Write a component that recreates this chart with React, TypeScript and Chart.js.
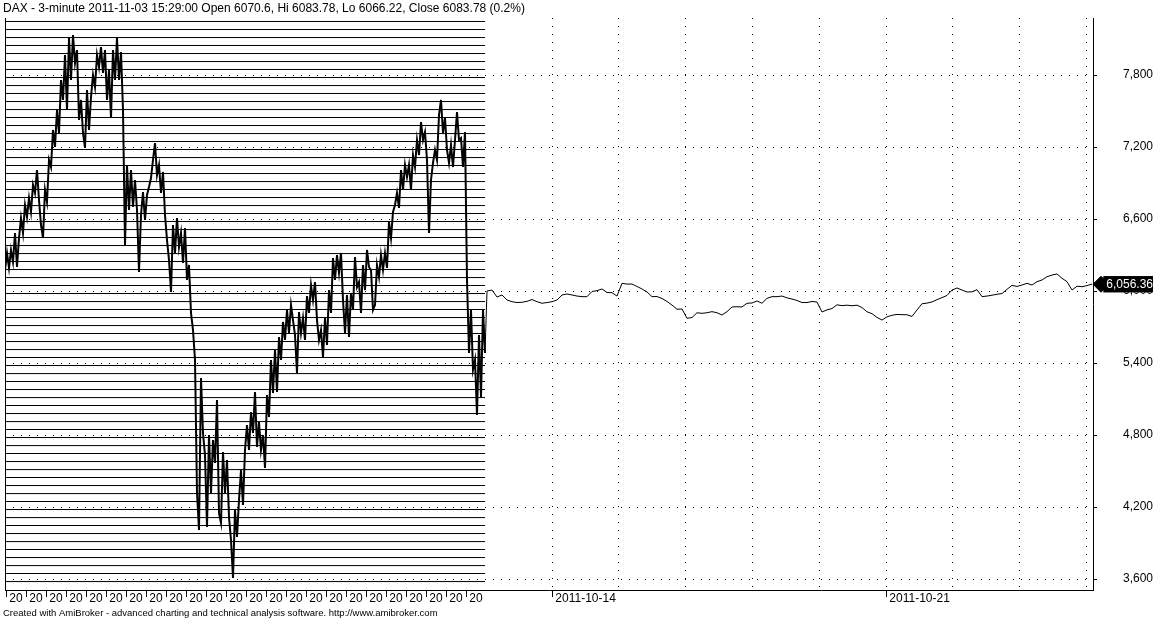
import React, { useEffect, useRef } from "react";
import { Chart, registerables } from "chart.js";

Chart.register(...registerables);

const titleText =
  "DAX - 3-minute 2011-11-03 15:29:00 Open 6070.6, Hi 6083.78, Lo 6066.22, Close 6083.78 (0.2%)";
const footerText =
  "Created with AmiBroker - advanced charting and technical analysis software. http://www.amibroker.com";

// compressed history (left part), one value every 2 slots
const historySlotStep = 2;
const historyValues = [
  6175, 6317, 6192, 6342, 6242, 6483, 6200, 6442, 6608, 6483,
  6717, 6617, 6775, 6658, 6883, 6817, 7008, 6758, 6550, 6442,
  6842, 6742, 7092, 7033, 7342, 7200, 7508, 7317, 7758, 7592,
  7967, 7508, 8108, 7758, 8133, 7900, 8008, 7425, 7592, 7317,
  7192, 7675, 7342, 7617, 7800, 7700, 7967, 7867, 8033, 7817,
  8008, 7592, 7842, 7442, 8008, 7758, 8108, 7758, 7992, 7508,
  6383, 7050, 6675, 7008, 6700, 6925, 6675, 6158, 6633, 6825,
  6592, 6800, 6867, 6942, 7092, 7233, 6967, 7050, 6817, 6992,
  6633, 6425, 6258, 5992, 6550, 6317, 6608, 6367, 6483, 6233,
  6525, 6092, 6217, 5817, 5675, 5425, 4317, 4008, 5275, 4817,
  4633, 4033, 4800, 4317, 4758, 4567, 5092, 4150, 4067, 4658,
  4317, 4592, 4117, 3925, 3608, 4175, 3950, 4258, 4508, 4217,
  4675, 4883, 4675, 4992, 4817, 5158, 4700, 4908, 4675, 4800,
  4525, 5133, 4950, 5425, 5150, 5508, 5158, 5617, 5425, 5742,
  5592, 5842, 5650, 5883, 5758, 5633, 5317, 5825, 5650, 5775,
  5592, 5958, 5817, 6050, 5925, 6075, 5758, 5592, 5675, 5450,
  5775, 5550, 6008, 5817, 6275, 6092, 6300, 6150, 6317, 5925,
  5650, 5967, 5617, 5983, 5842, 6283, 6033, 6075, 5817, 6217,
  6008, 6342, 6200, 6175, 5842, 5883, 6217, 6117, 6300, 6175,
  6317, 6192, 6575, 6442, 6658, 6717, 6817, 6692, 7008, 6842,
  7050, 6950, 7050, 6842, 7133, 7033, 7258, 7133, 7408, 7258,
  7325, 7092, 6483, 6925, 7067, 7175, 7092, 7467, 7592, 7317,
  7442, 7175, 7067, 7217, 7033, 7258, 7492, 7258, 7275, 7033,
  7325, 6092, 5483, 5842, 5342, 5425, 4967, 5633, 5117, 5842, 5483,
];

// 3-minute bars (right part)
const intradayStartSlot = 482;
const intradaySlotStep = 5;
const intradayValues = [
  6000, 6008, 5950, 5967, 5925, 5911, 5904, 5906, 5914, 5929,
  5911, 5898, 5904, 5911, 5925, 5967, 5975, 5967, 5958, 5953,
  5953, 5996, 6003, 6017, 5988, 5986, 5958, 6064, 6058, 6058,
  6038, 6017, 5992, 5953, 5954, 5938, 5913, 5883, 5848, 5850,
  5773, 5779, 5819, 5814, 5819, 5828, 5819, 5800, 5828, 5867,
  5869, 5867, 5898, 5900, 5917, 5898, 5939, 5953, 5953, 5958,
  5943, 5933, 5921, 5904, 5904, 5913, 5908, 5825, 5843, 5854,
  5885, 5878, 5882, 5877, 5882, 5862, 5827, 5811, 5780, 5758,
  5785, 5798, 5805, 5803, 5802, 5788, 5842, 5894, 5899, 5909,
  5928, 5945, 5963, 6008, 6025, 6008, 5992, 5993, 6011, 5953,
  5958, 5965, 5973, 5979, 6014, 6047, 6038, 6050, 6064, 6050,
  6078, 6092, 6119, 6133, 6142, 6106, 6078, 6008, 6040, 6036,
  6045, 6058,
];

const lastPrice = 6056.36;

// horizontal level lines across the history part
const levelLines = [
  8246, 8179, 8112, 8046, 7979, 7912, 7846, 7779, 7712, 7646,
  7579, 7512, 7446, 7379, 7312, 7246, 7179, 7112, 7046, 6979,
  6912, 6846, 6779, 6712, 6646, 6579, 6512, 6446, 6379, 6312,
  6246, 6179, 6112, 6046, 5979, 5912, 5846, 5779, 5712, 5646,
  5579, 5512, 5446, 5379, 5312, 5246, 5179, 5112, 5046, 4979,
  4912, 4846, 4779, 4712, 4646, 4579, 4512, 4446, 4379, 4312,
  4246, 4179, 4112, 4046, 3979, 3912, 3846, 3779, 3712, 3646, 3579,
];

const priceTicks = [3600, 4200, 4800, 5400, 6000, 6600, 7200, 7800];

const yearTickSlots = [
  1, 21, 41, 61, 81, 101, 121, 141, 161, 181, 201, 221,
  241, 261, 281, 301, 321, 341, 361, 381, 401, 421, 441, 461,
];
const yearTickLabels = [
  "20", "20", "20", "20", "20", "20", "20", "20", "20", "20", "20", "20",
  "20", "20", "20", "20", "20", "20", "20", "20", "20", "20", "20", "20",
];
const dayTickSlots = [547, 613.5, 680.5, 747.5, 814, 881, 947.5, 1014, 1081];
const dayTickLabels = ["2011-10-14", "", "", "", "", "2011-10-21", "", "", ""];

const slotMin = 0;
const slotMax = 1088;
const priceMin = 3508.33;
const priceMax = 8275;

const FONT = "'Liberation Sans', Arial, Helvetica, sans-serif";
const CLEAR = "rgba(0,0,0,0)";

function fmtPrice(v: number): string {
  const frac = Math.abs(v % 1) > 1e-9;
  return v.toLocaleString("en-US", {
    minimumFractionDigits: frac ? 2 : 0,
    maximumFractionDigits: 2,
  });
}

function buildConfig(): any {
  const historyData = historyValues.map((v, i) => ({ x: i * historySlotStep, y: v }));
  const lastHist = historyData[historyData.length - 1];
  const intradayData = [
    lastHist,
    ...intradayValues.map((v, i) => ({ x: intradayStartSlot + i * intradaySlotStep, y: v })),
  ];
  const levelData: any[] = [];
  levelLines.forEach((L) => {
    levelData.push({ x: 0, y: L }, { x: lastHist.x, y: L }, { x: lastHist.x, y: null });
  });

  return {
    type: "line",
    data: {
      datasets: [
        {
          label: "marker",
          data: [{ x: slotMax + 8, y: lastPrice }],
          showLine: false,
          pointStyle: "rectRot",
          pointRadius: 8,
          pointHoverRadius: 8,
          pointBackgroundColor: "#000",
          pointBorderColor: "#000",
          pointBorderWidth: 1,
          clip: false,
          xAxisID: "x",
          yAxisID: "y",
        },
        {
          label: "DAX 3-minute",
          data: intradayData,
          borderColor: "#000",
          borderWidth: 1,
          pointRadius: 0,
          tension: 0,
          xAxisID: "x",
          yAxisID: "y",
        },
        {
          label: "DAX history",
          data: historyData,
          borderColor: "#000",
          borderWidth: 2,
          pointRadius: 0,
          tension: 0,
          xAxisID: "x",
          yAxisID: "y",
        },
        {
          label: "levels",
          data: levelData,
          borderColor: "#000",
          borderWidth: 1,
          pointRadius: 0,
          spanGaps: false,
          tension: 0,
          xAxisID: "x",
          yAxisID: "y",
        },
      ],
    },
    options: {
      responsive: false,
      animation: false,
      devicePixelRatio: 1,
      events: [],
      layout: { autoPadding: false, padding: { left: 3, right: 0, top: 0, bottom: 0 } },
      plugins: {
        legend: { display: false },
        tooltip: { enabled: false },
        title: {
          display: true,
          text: titleText,
          align: "start",
          color: "#000",
          font: { family: FONT, size: 12, weight: "normal", lineHeight: 1.25 },
          padding: { top: 1, bottom: 2 },
        },
        subtitle: {
          display: true,
          text: footerText,
          position: "bottom",
          align: "start",
          color: "#000",
          font: { family: FONT, size: 9.5, weight: "normal", lineHeight: 1.26 },
          padding: { top: 0, bottom: 0 },
        },
      },
      scales: {
        x: {
          type: "linear",
          position: "bottom",
          min: slotMin,
          max: slotMax,
          bounds: "data",
          afterBuildTicks: (s: any) => {
            const t: any[] = [];
            yearTickSlots.forEach((v, i) => t.push({ value: v, kind: "year", txt: " " + yearTickLabels[i] }));
            dayTickSlots.forEach((v, i) =>
              t.push({
                value: v,
                kind: dayTickLabels[i] ? "dayLabel" : "day",
                txt: dayTickLabels[i] ? " " + dayTickLabels[i] : "",
              })
            );
            s.ticks = t;
          },
          afterFit: (s: any) => {
            s.height = 17;
          },
          ticks: {
            autoSkip: false,
            maxRotation: 0,
            minRotation: 0,
            align: "start",
            padding: -6,
            color: "#000",
            font: { family: FONT, size: 12 },
            callback: (_v: any, i: number, ticks: any[]) => ticks[i].txt,
          },
          grid: {
            display: true,
            drawOnChartArea: true,
            drawTicks: true,
            tickLength: 7,
            lineWidth: 1,
            color: (ctx: any) => (ctx.tick && ctx.tick.kind !== "year" ? "#000" : CLEAR),
            tickColor: (ctx: any) => (ctx.tick && ctx.tick.kind !== "day" ? "#000" : CLEAR),
            tickBorderDash: [],
          },
          border: {
            display: true,
            color: "#000",
            width: 1,
            dash: (ctx: any) => (ctx.type === "tick" ? [1, 7] : []),
          },
        },
        y: {
          type: "linear",
          position: "right",
          min: priceMin,
          max: priceMax,
          bounds: "data",
          afterBuildTicks: (s: any) => {
            const t: any[] = priceTicks.map((v) => ({ value: v }));
            t.push({ value: lastPrice, last: true });
            s.ticks = t;
          },
          afterFit: (s: any) => {
            s.width = 60;
          },
          ticks: {
            z: 1,
            autoSkip: false,
            crossAlign: "far",
            padding: 6,
            color: (ctx: any) => (ctx.tick && ctx.tick.last ? "#fff" : "#000"),
            font: { family: FONT, size: 12 },
            callback: (v: any) => fmtPrice(Number(v)),
            showLabelBackdrop: (ctx: any) => !!(ctx.tick && ctx.tick.last),
            backdropColor: "#000",
            backdropPadding: { top: 1, bottom: 1, left: 3, right: 3 },
          },
          grid: {
            display: true,
            tickLength: 4,
            lineWidth: 1,
            color: (ctx: any) => (ctx.tick && ctx.tick.last ? CLEAR : "#000"),
            tickColor: "#000",
            tickBorderDash: [],
          },
          border: {
            display: true,
            z: 1,
            color: "#000",
            width: 1,
            dash: (ctx: any) => (ctx.type === "tick" ? [1, 7] : []),
          },
        },
        yL: {
          type: "linear",
          position: "left",
          display: true,
          ticks: { display: false },
          grid: { display: false, drawTicks: false },
          border: { display: true, color: "#000", width: 1 },
          afterFit: (s: any) => {
            s.width = 2;
          },
        },
      },
    },
  };
}

export default function App() {
  const ref = useRef<HTMLCanvasElement>(null);
  useEffect(() => {
    document.body.style.margin = "0";
    const chart = new Chart(ref.current as HTMLCanvasElement, buildConfig());
    return () => chart.destroy();
  }, []);
  return (
    <div style={{ position: "fixed", left: 0, top: 0, width: 1153, height: 619, background: "#fff" }}>
      <canvas ref={ref} width={1153} height={619} style={{ display: "block", width: 1153, height: 619 }} />
    </div>
  );
}
